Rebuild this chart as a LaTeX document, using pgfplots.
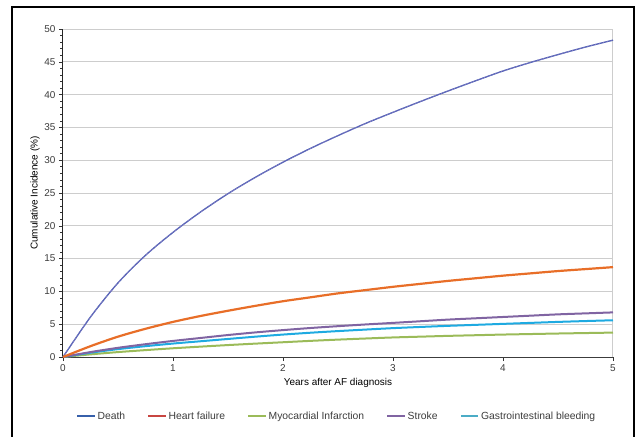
\documentclass[border=0pt]{standalone}
\usepackage{pgfplots}
\pgfplotsset{compat=1.18}
\usepackage{fontspec}
\setmainfont{Liberation Sans}
\definecolor{deathB}{RGB}{70,100,180}
\definecolor{deathP}{RGB}{135,115,195}
\definecolor{hfO}{RGB}{232,110,40}
\definecolor{strokeP}{RGB}{128,100,162}
\definecolor{giC}{RGB}{30,170,225}
\definecolor{miG}{RGB}{155,187,89}
\definecolor{legDeath}{RGB}{55,96,170}
\definecolor{legHF}{RGB}{200,70,65}
\definecolor{legGI}{RGB}{75,172,198}
\definecolor{txt}{RGB}{60,60,60}
\definecolor{gridc}{RGB}{205,205,205}
\begin{document}
\begin{tikzpicture}
\useasboundingbox (-63bp,-80bp) rectangle (573bp,357bp);
\draw[line width=2bp, black] (-51bp,-85bp) -- (-51bp,350bp) -- (571bp,350bp) -- (571bp,-85bp);
\begin{axis}[
  at={(0,0)}, anchor=origin,
  scale only axis, width=550bp, height=328bp,
  xmin=0, xmax=5, ymin=0, ymax=50,
  axis x line*=bottom, axis y line*=left,
  x axis line style={color=txt, line width=1bp, -},
  y axis line style={color=black!85, line width=1bp, -},
  xtick={0,1,2,3,4,5},
  ytick={0,5,...,50},
  minor y tick num=4,
  tick align=outside,
  major tick length=4bp, minor tick length=2.5bp,
  every tick/.style={color=black!80, line width=0.6bp},
  ymajorgrids, major grid style={color=gridc, line width=1bp},
  tick label style={font=\fontsize{10}{11}\selectfont, color=txt},
  /pgf/number format/assume math mode=true,
  xlabel={Years after AF diagnosis},
  ylabel={Cumulative Incidence (\%)},
  label style={font=\fontsize{10.4}{11}\selectfont, color=txt},
  every axis x label/.style={at={(axis description cs:0.5,-0.08)}, anchor=center},
  every axis y label/.style={at={(axis description cs:-0.051,0.5)}, rotate=90, anchor=center},
  legend columns=5,
  legend style={at={(axis description cs:0.498,-0.18)}, anchor=center, draw=none, fill=none,
    font=\fontsize{10.4}{11}\selectfont, text=txt, inner xsep=0pt,
    /tikz/every even column/.append style={column sep=20.5bp},
    /tikz/every odd column/.append style={column sep=0bp}},
  legend cell align=left,
  clip=false,
]
\draw[gridc, line width=1bp] (axis cs:5,0) -- (axis cs:5,50);
% Death
\addplot[deathB, line width=1.3bp, smooth, forget plot] coordinates {
(0,0) (0.25,6.1) (0.5,11.3) (0.75,15.5) (1,19.0) (1.25,22.1) (1.5,24.9) (1.75,27.4) (2,29.7) (2.25,31.8) (2.5,33.75) (2.75,35.6) (3,37.3) (3.25,38.95) (3.5,40.55) (3.75,42.1) (4,43.6) (4.25,44.9) (4.5,46.1) (4.75,47.25) (5,48.3)};
\addplot[deathP, line width=1bp, dash pattern=on 1bp off 1bp, smooth, forget plot] coordinates {
(0,0) (0.25,6.1) (0.5,11.3) (0.75,15.5) (1,19.0) (1.25,22.1) (1.5,24.9) (1.75,27.4) (2,29.7) (2.25,31.8) (2.5,33.75) (2.75,35.6) (3,37.3) (3.25,38.95) (3.5,40.55) (3.75,42.1) (4,43.6) (4.25,44.9) (4.5,46.1) (4.75,47.25) (5,48.3)};
% MI
\addplot[miG, line width=2bp, smooth, forget plot] coordinates {
(0,0) (0.25,0.4) (0.5,0.75) (0.75,1.05) (1,1.33) (1.25,1.58) (1.5,1.82) (1.75,2.04) (2,2.25) (2.25,2.46) (2.5,2.65) (2.75,2.82) (3,2.98) (3.25,3.1) (3.5,3.22) (3.75,3.32) (4,3.42) (4.25,3.5) (4.5,3.58) (4.75,3.65) (5,3.72)};
% GI bleeding
\addplot[giC, line width=2bp, smooth, forget plot] coordinates {
(0,0) (0.25,0.65) (0.5,1.2) (0.75,1.65) (1,2.05) (1.25,2.4) (1.5,2.75) (1.75,3.1) (2,3.42) (2.25,3.7) (2.5,3.95) (2.75,4.18) (3,4.4) (3.25,4.58) (3.5,4.75) (3.75,4.9) (4,5.05) (4.25,5.2) (4.5,5.35) (4.75,5.48) (5,5.6)};
% Stroke
\addplot[strokeP, line width=2bp, smooth, forget plot] coordinates {
(0,0) (0.25,0.75) (0.5,1.4) (0.75,1.95) (1,2.45) (1.25,2.9) (1.5,3.35) (1.75,3.75) (2,4.1) (2.25,4.42) (2.5,4.7) (2.75,4.96) (3,5.2) (3.25,5.45) (3.5,5.7) (3.75,5.9) (4,6.1) (4.25,6.3) (4.5,6.5) (4.75,6.65) (5,6.8)};
% Heart failure
\addplot[hfO, line width=2.2bp, smooth, forget plot] coordinates {
(0,0) (0.25,1.65) (0.5,3.1) (0.75,4.3) (1,5.35) (1.25,6.25) (1.5,7.05) (1.75,7.8) (2,8.5) (2.25,9.1) (2.5,9.7) (2.75,10.2) (3,10.7) (3.25,11.15) (3.5,11.6) (3.75,12.0) (4,12.4) (4.25,12.75) (4.5,13.1) (4.75,13.4) (5,13.7)};
\addlegendimage{legend image code/.code={\draw[legDeath, line width=1.5bp] (0bp,0bp) -- (17.5bp,0bp);}}
\addlegendentry{Death}
\addlegendimage{legend image code/.code={\draw[legHF, line width=1.5bp] (0bp,0bp) -- (17.5bp,0bp);}}
\addlegendentry{Heart failure}
\addlegendimage{legend image code/.code={\draw[miG, line width=1.5bp] (0bp,0bp) -- (17.5bp,0bp);}}
\addlegendentry{Myocardial Infarction}
\addlegendimage{legend image code/.code={\draw[strokeP, line width=1.5bp] (0bp,0bp) -- (17.5bp,0bp);}}
\addlegendentry{Stroke}
\addlegendimage{legend image code/.code={\draw[legGI, line width=1.5bp] (0bp,0bp) -- (17.5bp,0bp);}}
\addlegendentry{Gastrointestinal bleeding}
\end{axis}
\end{tikzpicture}
\end{document}
